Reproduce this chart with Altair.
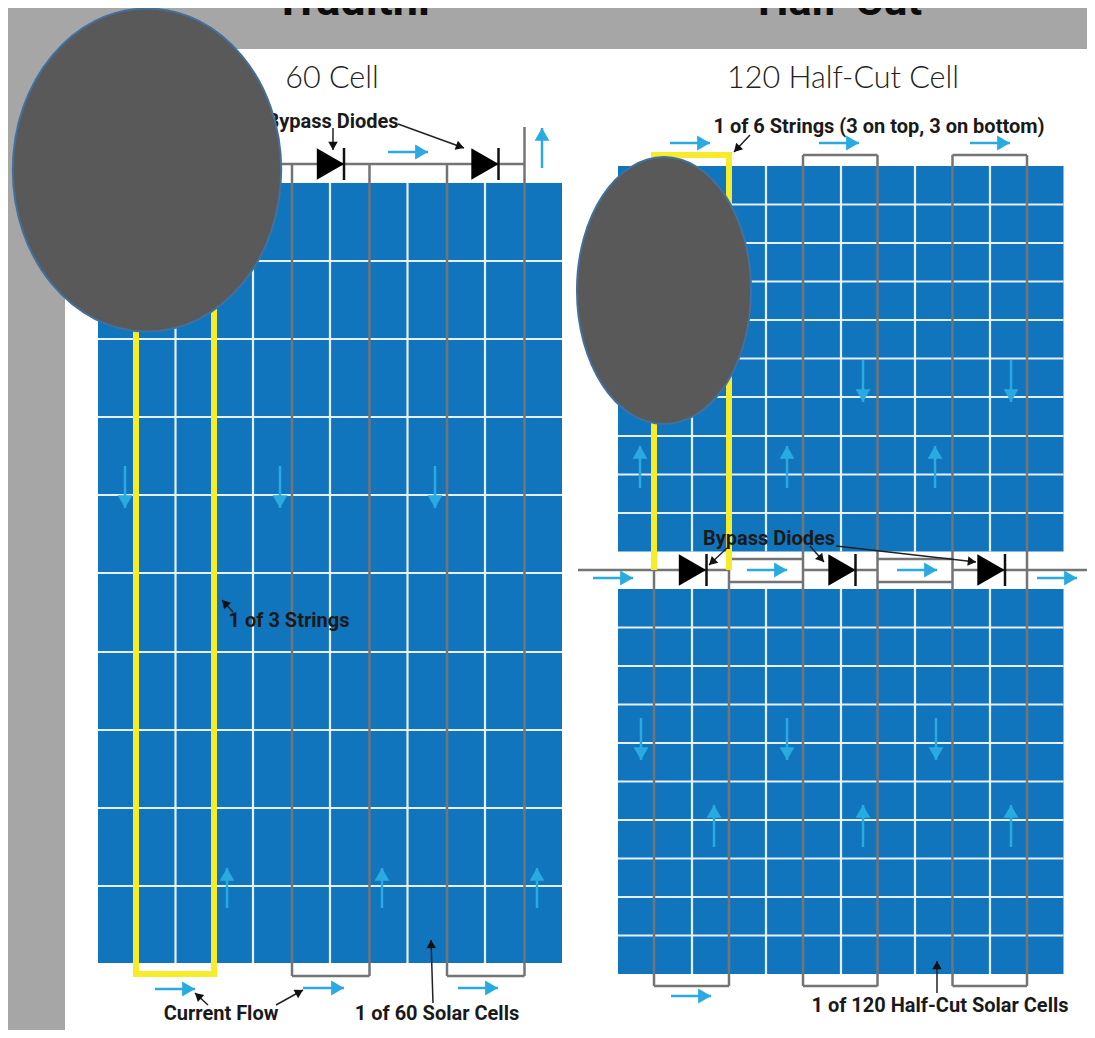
import altair as alt
import pandas as pd
import numpy as np

# ---- panels (drawing units = reference pixels) ----
panels_x1 = [98, 618, 618]
panels_x2 = [562, 1063.5, 1063.5]
panels_y1 = [183, 166, 589]
panels_y2 = [963, 551.5, 974]
BLUE = "#1175bd"; GREY = "#737476"; YEL = "#f7ec2a"; CYAN = "#29abe2"; BLK = "#111111"

left_cols = [175.5, 253, 330, 407.5, 485]
left_rows = [261, 339, 417, 495, 573, 652, 730, 808, 886]
right_cols = [692, 766, 841, 915, 990]
right_rows_top = [204.5, 243, 281.5, 320, 358.5, 397, 436, 474.5, 513]
right_rows_bot = [627.5, 666, 704.5, 743, 781.5, 820, 858.5, 897, 935.5]

# wires: x1, y1, x2, y2
grey_wires = [
    (292, 164, 292, 976), (369.5, 164, 369.5, 976), (292, 976, 369.5, 976),
    (447, 164, 447, 976), (524.5, 127, 524.5, 976), (447, 976, 524.5, 976),
    (200, 164, 524.5, 164),
    (654, 570, 654, 986), (729, 570, 729, 986), (654, 986, 729, 986),
    (803, 155, 803, 986), (877.5, 155, 877.5, 986), (803, 155, 877.5, 155), (803, 986, 877.5, 986),
    (952.5, 155, 952.5, 986), (1027, 155, 1027, 986), (952.5, 155, 1027, 155), (952.5, 986, 1027, 986),
    (578, 570, 729, 570), (803, 570, 877.5, 570), (952.5, 570, 1087, 570),
    (729, 559, 803, 559), (729, 582, 803, 582), (877.5, 559, 952.5, 559), (877.5, 582, 952.5, 582),
]
yellow_wires = [
    (136, 150, 136, 974), (214, 150, 214, 974), (133, 974, 217, 974),
    (654, 155, 654, 570), (729, 155, 729, 570), (651, 155, 732, 155),
]
# flow arrows: x1, y1, x2, y2 (tail to tip)
flow_arrows = [
    (388, 152, 428, 152), (542, 168, 542, 128),
    (125, 466, 125, 508), (280, 466, 280, 508), (435, 466, 435, 508),
    (227, 908, 227, 868), (382, 908, 382, 868), (537, 908, 537, 868),
    (155, 989, 195, 989), (303, 988, 344, 988), (458, 988, 498, 988),
    (670, 143, 710, 143), (819, 143, 859, 143), (970, 143, 1010, 143),
    (593, 578, 633, 578), (747, 570, 787, 570), (897, 570, 937, 570), (1037, 578, 1077, 578),
    (863, 360, 863, 402), (1011, 360, 1011, 402),
    (640, 488, 640, 446), (787, 488, 787, 446), (935, 488, 935, 446),
    (641, 718, 641, 760), (787, 718, 787, 760), (936, 718, 936, 760),
    (714, 847, 714, 805), (863, 847, 863, 805), (1011, 847, 1011, 805),
    (671, 996, 711, 996),
]
# black callout arrows: x1, y1, x2, y2
call_arrows = [
    (333, 128, 333, 150), (398, 124, 464, 148),
    (750, 135, 734, 152),
    (208, 1005, 195, 993), (276, 1005, 303, 990),
    (433, 1003, 431, 940),
    (937, 993, 937, 961),
    (233, 612, 222, 600),
    (727, 548, 709, 565), (810, 546, 824, 562), (836, 546, 976, 562),
]
# diodes: triangle centre x, centre y, bar x, bar y1, bar y2
diodes = [
    (330.5, 164, 344, 148, 180), (485, 164, 498.5, 148, 180),
    (692.5, 570, 706.5, 554, 586), (842, 570, 855.5, 554, 586), (991, 570, 1005, 554, 586),
]
# labels: text, x, y, size
header_labels = [("Traditnl", 352, 15, 45), ("Half-Cut", 840, 15, 43)]
note_labels = [
    ("Bypass Diodes", 332.5, 122, 20),
    ("1 of 3 Strings", 289, 621, 20),
    ("Current Flow", 221, 1014, 20),
    ("1 of 60 Solar Cells", 437, 1014, 20),
    ("1 of 6 Strings (3 on top, 3 on bottom)", 879, 127, 20),
    ("Bypass Diodes", 769, 539, 20),
    ("1 of 120 Half-Cut Solar Cells", 940, 1006, 20),
]
title_labels = [("60 Cell", 332, 79, 30.5), ("120 Half-Cut Cell", 843, 79, 30.5)]
ellipse_big = dict(x=147, y=170, h=323)
ellipse_small = dict(x=664, y=290.5, h=267)
SPATH_BIG = "M-0.831,0A0.831,1 0 1,1 0.831,0A0.831,1 0 1,1 -0.831,0Z"
SPATH_SMALL = "M-0.652,0A0.652,1 0 1,1 0.652,0A0.652,1 0 1,1 -0.652,0Z"

X = alt.Scale(domain=[8, 1087], nice=False, zero=False)
Y = alt.Scale(domain=[1030, 8], nice=False, zero=False)
ex = lambda f="x": alt.X(f + ":Q", scale=X, axis=None)
ey = lambda f="y": alt.Y(f + ":Q", scale=Y, axis=None)

def seg_df(rows):
    return pd.DataFrame(rows, columns=["x", "y", "x2", "y2"])

def segs(rows, color, w, op=1):
    return alt.Chart(seg_df(rows)).mark_rule(color=color, strokeWidth=w, opacity=op, clip=True).encode(
        x=ex(), y=ey(), x2="x2:Q", y2="y2:Q")

def rects(x1, x2, y1, y2, color):
    d = pd.DataFrame({"x": x1, "x2": x2, "y": y1, "y2": y2})
    return alt.Chart(d).mark_rect(color=color, clip=True).encode(x=ex(), x2="x2:Q", y=ey(), y2="y2:Q")

def heads(rows, color, size):
    a = seg_df(rows)
    ang = (np.degrees(np.arctan2(a.y2 - a.y, a.x2 - a.x)) + 90) % 360
    L = np.hypot(a.x2 - a.x, a.y2 - a.y)
    back = np.sqrt(size) * 0.433
    d = pd.DataFrame({"x": a.x2 - (a.x2 - a.x) / L * back,
                      "y": a.y2 - (a.y2 - a.y) / L * back, "a": ang})
    return alt.Chart(d).mark_point(shape="triangle-up", filled=True, color=color, opacity=1,
                                   size=size, strokeWidth=0).encode(
        x=ex(), y=ey(), angle=alt.Angle("a:Q", scale=None))

def ellipse(e, path):
    d = pd.DataFrame([e])
    return alt.Chart(d).mark_point(shape=path, filled=True, fill="#595959", stroke="#41719c",
                                   strokeWidth=2, opacity=1, size=e["h"] ** 2).encode(x=ex(), y=ey())

def text_layer(rows, **kw):
    d = pd.DataFrame(rows, columns=["t", "x", "y", "s"])
    return alt.Chart(d).mark_text(align="center", **kw).encode(
        x=ex(), y=ey(), text="t:N", size=alt.Size("s:Q", scale=None))

grid_rows = []
for v in left_cols: grid_rows.append((v, 183, v, 963))
for v in left_rows: grid_rows.append((98, v, 562, v))
for v in right_cols:
    grid_rows += [(v, 166, v, 551.5), (v, 589, v, 974)]
for v in right_rows_top: grid_rows.append((618, v, 1063.5, v))
for v in right_rows_bot: grid_rows.append((618, v, 1063.5, v))

diode_df = pd.DataFrame(diodes, columns=["x", "y", "bx", "by1", "by2"])
tri = alt.Chart(diode_df).mark_point(shape="triangle-right", filled=True, color="black", opacity=1,
                                     size=1000, strokeWidth=0).encode(x=ex(), y=ey())
bars = alt.Chart(diode_df).mark_rule(color=BLK, strokeWidth=2.5).encode(
    x=ex("bx"), y=ey("by1"), y2="by2:Q")

chart = alt.layer(
    rects([8], [1087], [8], [1030], "#a6a6a6"),
    rects([65], [1087], [49], [1030], "#ffffff"),
    rects(panels_x1, panels_x2, panels_y1, panels_y2, BLUE),
    segs(grid_rows, "#e6f0f8", 2.2),
    segs(grey_wires, GREY, 2.5),
    segs(yellow_wires, YEL, 6),
    segs(flow_arrows, CYAN, 2.5),
    heads(flow_arrows, CYAN, 220),
    segs(call_arrows, "#222222", 1.5),
    heads(call_arrows, BLK, 90),
    tri, bars,
    text_layer(header_labels, font="Roboto", fontWeight="bold", baseline="alphabetic", color="#0d0d0d"),
    text_layer(note_labels, font="Roboto", fontWeight="bold", baseline="middle", color="#1a1a1a"),
    text_layer(title_labels, font="Lato", fontWeight=300, baseline="middle", color="#222222"),
    ellipse(ellipse_big, SPATH_BIG),
    ellipse(ellipse_small, SPATH_SMALL),
).properties(
    width=1079, height=1022, padding=0, autosize=alt.AutoSizeParams(type="none"),
    background="#ffffff",
).configure_view(stroke=None)

chart.save("out.html", embed_options={"renderer": "svg", "actions": False})
